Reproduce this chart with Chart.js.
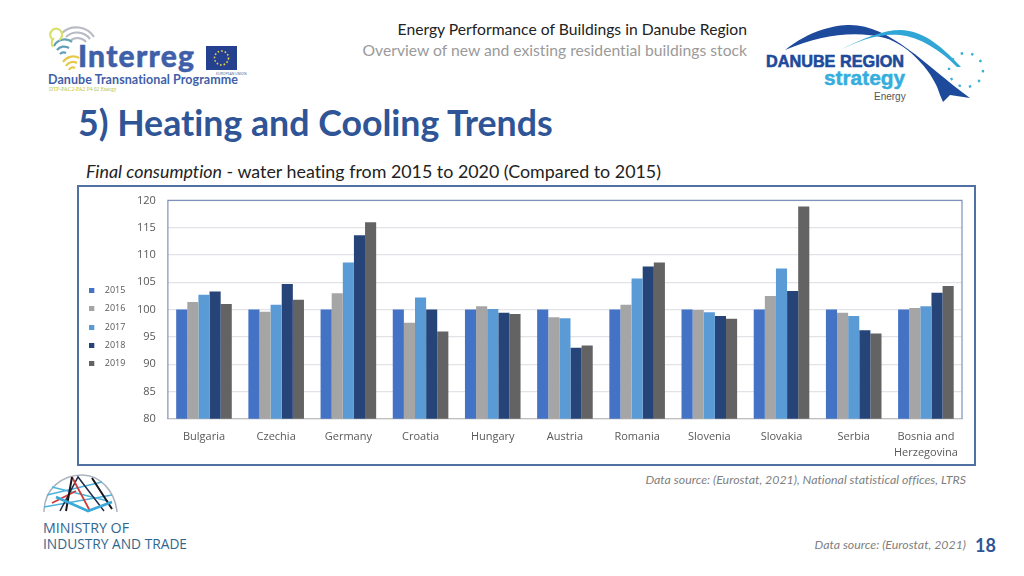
<!DOCTYPE html>
<html>
<head>
<meta charset="utf-8">
<title>Heating and Cooling Trends</title>
<script src="https://cdn.jsdelivr.net/npm/chart.js@4"></script>
<style>
  html, body { margin: 0; padding: 0; background: #fff; }
  body { width: 1024px; height: 576px; position: relative; overflow: hidden; font-family: Lato, sans-serif; font-variant-ligatures: none; }
  .txt { position: absolute; white-space: nowrap; }
  svg { position: absolute; }
  #box { position: absolute; left: 77px; top: 185px; width: 895px; height: 277px; border: 2px solid #4f71a3; }
  #wrap { position: absolute; left: 80px; top: 188px; width: 892px; height: 275px; }
</style>
</head>
<body>

<div class="txt" style="right:277px;top:20px;font-size:15.700px;color:#222">Energy Performance of Buildings in Danube Region</div>
<div class="txt" style="right:277px;top:41px;font-size:15.700px;color:#9a9a9a">Overview of new and existing residential buildings stock</div>
<div class="txt" style="left:78px;top:101px;font-weight:700;font-size:35.700px;color:#2f5597">5) Heating and Cooling Trends</div>
<div class="txt" style="left:86px;top:160px;font-size:17.850px;color:#222"><i>Final consumption</i> - water heating from 2015 to 2020 (Compared to 2015)</div>
<div class="txt" style="right:58px;top:472px;font-size:12.350px;font-style:italic;color:#7f7f7f">Data source: (Eurostat, 2021), National statistical offices, LTRS</div>
<div class="txt" style="right:58px;top:537px;font-size:12.350px;font-style:italic;color:#7f7f7f">Data source: (Eurostat, 2021)</div>
<div class="txt" style="left:975px;top:534px;font-size:18px;font-weight:700;color:#2f5597">18</div>

<!-- Interreg logo -->
<svg style="left:40px;top:20px" width="210" height="75" viewBox="0 0 210 75">
  <g fill="none" stroke-width="2.200">
    <path d="M26 17a16 16 0 0 1 24 2M30 21a11 11 0 0 1 16 1M22 13a21 21 0 0 1 32 4" stroke="#b9bcc4"/>
    <path d="M14 26a12 12 0 0 1 18-4M17 30a9 9 0 0 1 12-2M20 34a5 5 0 0 1 6-1" stroke="#5f9fb5"/>
    <path d="M14 18a7 7 0 0 0-1 9M19 20a6 6 0 1 0-7-1" stroke="#d8e06a"/>
    <path d="M23 42a12 12 0 0 1 16-4M26 46a8 8 0 0 1 11-3M29 50a4 4 0 0 1 6-2" stroke="#e6c94a"/>
  </g>
  <text x="38" y="47" font-family="Lato" font-weight="900" font-size="30" fill="#3f5fa8" stroke="#3f5fa8" stroke-width=".5" textLength="116">Interreg</text>
  <rect x="166" y="26" width="31" height="24" fill="#24408e"/>
  <circle cx="181.500" cy="38" r="7" fill="none" stroke="#e8d44a" stroke-width="1.600" stroke-dasharray="1.600 2"/>
  <text x="176" y="55" font-size="3.500" fill="#4a5a88" font-family="Open Sans">EUROPEAN UNION</text>
  <text x="8" y="64" font-family="Lato" font-weight="700" font-size="12.500" fill="#3f5fa8" textLength="190">Danube Transnational Programme</text>
  <text x="9" y="71" font-family="Liberation Serif" font-size="5.500" fill="#b5c42f">DTP-PAC2-PA2 P4 02 Energy</text>
</svg>

<!-- Danube Region Strategy logo -->
<svg style="left:750px;top:15px" width="250" height="95" viewBox="0 0 250 95">
  <path d="M35 35C60 15 85 10 100 10C140 10 175 50 220 83L200 80L193 87L190 80C185 60 160 30 135 23C105 15 70 20 35 35Z" fill="#1d4a9b"/>
  <path d="M90 35C115 22 135 15 150 15C175 15 195 35 211 52L207 52C190 35 170 22 150 20C130 18 110 25 90 35Z" fill="#2fa6d6"/>
  <g fill="none" stroke="#3cb0d8" stroke-width="2.400" stroke-dasharray="2.400 8.200">
    <circle cx="216" cy="55" r="17"/>
  </g>
  <text x="16" y="52" font-family="Liberation Sans" font-weight="700" font-size="17" fill="#1d4a9b" textLength="138" lengthAdjust="spacingAndGlyphs" stroke="#1d4a9b" stroke-width=".6">DANUBE REGION</text>
  <text x="74" y="70" font-family="Liberation Sans" font-weight="700" font-size="21" fill="#35aede" textLength="81" lengthAdjust="spacingAndGlyphs" stroke="#35aede" stroke-width=".5">strategy</text>
  <text x="124" y="85" font-family="Liberation Sans" font-size="10" fill="#555">Energy</text>
</svg>

<!-- Ministry logo -->
<svg style="left:30px;top:465px" width="170" height="90" viewBox="0 0 170 90">
  <g fill="none" stroke-width="1.500">
    <path d="M14 47C14 24 32 10 52 10C70 10 85 26 87 47" stroke="#aab4c0"/>
    <path d="M17 30L72 17M22 22L78 36M14 42L82 30" stroke="#4bb3dc"/>
    <path d="M30 46L48 12L74 46" stroke="#1f2d4a"/>
    <path d="M42 12L60 46M22 38L46 26" stroke="#d03a3a" stroke-width="1.800"/>
    <path d="M36 46L42 12M62 13L82 44" stroke="#16181e" stroke-width="2"/>
    <path d="M26 32L58 46L82 37" stroke="#3aa9d9" stroke-width="2.600"/>
  </g>
  <text x="13" y="68" font-family="Open Sans" font-size="14" fill="#2f6690" textLength="86" lengthAdjust="spacingAndGlyphs">MINISTRY OF</text>
  <text x="13" y="84" font-family="Open Sans" font-size="14" fill="#2f6690" textLength="144" lengthAdjust="spacingAndGlyphs">INDUSTRY AND TRADE</text>
</svg>

<div id="box"></div>
<div id="wrap"><canvas id="trendChart" width="892" height="275"></canvas></div>

<script>
    const countries = ["Bulgaria", "Czechia", "Germany", "Croatia", "Hungary", "Austria", "Romania", "Slovenia", "Slovakia", "Serbia", ["Bosnia and", "Herzegovina"]];
    const years = ["2015", "2016", "2017", "2018", "2019"];
    const colors = ["#4472c4", "#a5a5a5", "#5b9bd5", "#264478", "#636363"];

    const values2015 = [100, 100, 100, 100, 100, 100, 100, 100, 100, 100, 100];
    const values2016 = [101.4, 99.6, 103.0, 97.6, 100.6, 98.6, 100.9, 99.9, 102.5, 99.4, 100.3];
    const values2017 = [102.7, 100.9, 108.6, 102.2, 100.1, 98.4, 105.7, 99.5, 107.5, 98.8, 100.6];
    const values2018 = [103.3, 104.7, 113.6, 100.0, 99.4, 93.0, 107.9, 98.8, 103.4, 96.2, 103.1];
    const values2019 = [101.0, 101.8, 116.0, 96.0, 99.2, 93.4, 108.6, 98.3, 118.9, 95.6, 104.3];
    const seriesValues = [values2015, values2016, values2017, values2018, values2019];

    // Marker for the legend: small square on the left side of a wider box
    function legendMarker(color) {
        const c = document.createElement('canvas');
        c.width = 11;
        c.height = 5;
        const g = c.getContext('2d');
        g.fillStyle = color;
        g.fillRect(0, 0, 5, 5);
        return c;
    }

    const plotBorder = {
        id: 'plotBorder',
        afterLayout(chart) {
            // Legend sits a bit above the centre of the chart box
            chart.legend.top -= 4.5;
            chart.legend.bottom -= 4.5;
        },
        afterDatasetsDraw(chart) {
            const { ctx, chartArea: a } = chart;
            ctx.save();
            ctx.strokeStyle = '#7b93bb';
            ctx.lineWidth = 1.2;
            ctx.beginPath();
            ctx.moveTo(a.left, a.bottom);
            ctx.lineTo(a.left, a.top);
            ctx.lineTo(a.right, a.top);
            ctx.lineTo(a.right, a.bottom);
            ctx.stroke();
            ctx.restore();
        }
    };

    new Chart(document.getElementById('trendChart').getContext('2d'), {
        type: 'bar',
        data: {
            labels: countries,
            datasets: years.map((y, i) => ({
                label: y,
                data: seriesValues[i],
                backgroundColor: colors[i],
                borderWidth: 0,
                categoryPercentage: 0.77,
                barPercentage: 1
            }))
        },
        options: {
            responsive: false,
            animation: false,
            layout: { padding: { top: 12.4, right: 10, bottom: 0, left: 0 } },
            plugins: {
                tooltip: { enabled: false },
                legend: {
                    position: 'left',
                    align: 'center',
                    labels: {
                        usePointStyle: true,
                        pointStyleWidth: 11,
                        boxHeight: 5,
                        padding: 9.3,
                        color: '#595959',
                        font: { family: 'Open Sans', size: 9 },
                        generateLabels: chart => chart.data.datasets.map((d, i) => ({
                            text: d.label,
                            fontColor: '#595959',
                            datasetIndex: i,
                            pointStyle: legendMarker(colors[i]),
                            lineWidth: 0
                        }))
                    }
                }
            },
            scales: {
                x: {
                    afterFit(scale) { scale.height = 44.3; scale.paddingLeft = 0; scale.paddingRight = 0; },
                    border: { color: '#bfbfbf', width: 1.2 },
                    grid: { display: false },
                    ticks: {
                        padding: 2,
                        maxRotation: 0,
                        autoSkip: false,
                        color: '#595959',
                        font: { family: 'Open Sans', size: 11, lineHeight: 1.45 }
                    }
                },
                y: {
                    min: 80,
                    max: 120,
                    afterFit(scale) { scale.width = 32.5; scale.paddingTop = 0; scale.paddingBottom = 0; },
                    border: { display: false },
                    grid: { color: '#e2e2e8', lineWidth: 1.2, drawTicks: false },
                    ticks: {
                        stepSize: 5,
                        padding: 12,
                        color: '#595959',
                        font: { family: 'Open Sans', size: 11 }
                    }
                }
            }
        },
        plugins: [plotBorder]
    });
</script>
</body>
</html>
